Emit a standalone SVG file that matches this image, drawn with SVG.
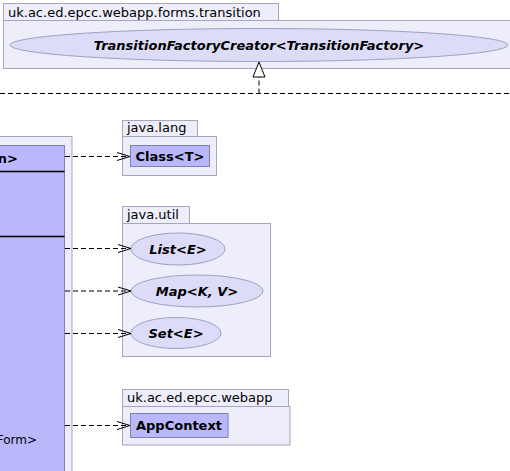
<svg xmlns="http://www.w3.org/2000/svg" width="510" height="471" viewBox="0 0 510 471">
<defs>
<style>
.pkg{fill:#eeeefa;stroke:#a5a5bf;stroke-width:1}
.cls{fill:#b8b8fa;stroke:#8080b0;stroke-width:1}
.ifc{fill:#dcdcf8;stroke:#a0a0c0;stroke-width:1}
.pt{font-family:"DejaVu Sans",sans-serif;font-size:13px;fill:#000}
.bt{font-family:"DejaVu Sans",sans-serif;font-size:13px;font-weight:bold;fill:#000}
.it{font-family:"DejaVu Sans",sans-serif;font-size:13px;font-weight:bold;font-style:italic;fill:#000}
.dep{stroke:#000;stroke-width:1;stroke-dasharray:5,3;fill:none}
.head{stroke:#000;stroke-width:1;fill:none}
</style>
</defs>
<g id="pkg-transition">
<rect class="pkg" x="3.5" y="3.5" width="275" height="17"/>
<rect class="pkg" x="3.5" y="20.5" width="520" height="48"/>
<text class="pt" x="8" y="16.5">uk.ac.ed.epcc.webapp.forms.transition</text>
</g>
<g id="TransitionFactoryCreator">
<ellipse class="ifc" cx="259" cy="45" rx="249" ry="16.5"/>
<text class="it" x="259" y="49.5" text-anchor="middle">TransitionFactoryCreator&lt;TransitionFactory&gt;</text>
</g>
<g id="pkg-main">
<rect class="pkg" x="-10" y="136.5" width="82" height="350"/>
</g>
<g id="mainClass">
<rect class="cls" x="-10" y="145.5" width="74.5" height="340"/>
<line x1="-10" y1="171.5" x2="64.5" y2="171.5" stroke="#000" stroke-width="1.5"/>
<line x1="-10" y1="236.5" x2="64.5" y2="236.5" stroke="#000" stroke-width="1.5"/>
<text class="bt" x="18" y="163" text-anchor="end">n&gt;</text>
<text class="pt" x="37" y="443.5" text-anchor="end" style="font-size:12px">Form&gt;</text>
</g>
<g id="pkg-java-lang">
<rect class="pkg" x="122.5" y="120.5" width="75" height="16"/>
<rect class="pkg" x="122.5" y="136.5" width="94" height="39"/>
<text class="pt" x="127" y="132">java.lang</text>
</g>
<g id="Class">
<rect class="cls" x="130.5" y="145.5" width="79" height="21"/>
<text class="bt" x="170" y="160.5" text-anchor="middle">Class&lt;T&gt;</text>
</g>
<g id="pkg-java-util">
<rect class="pkg" x="122.5" y="206.5" width="67" height="17"/>
<rect class="pkg" x="122.5" y="223.5" width="148" height="133"/>
<text class="pt" x="127" y="218.5">java.util</text>
</g>
<g id="List">
<ellipse class="ifc" cx="178" cy="249" rx="47" ry="16"/>
<text class="it" x="178" y="253.5" text-anchor="middle">List&lt;E&gt;</text>
</g>
<g id="Map">
<ellipse class="ifc" cx="197" cy="291" rx="66" ry="16"/>
<text class="it" x="197" y="295.5" text-anchor="middle">Map&lt;K, V&gt;</text>
</g>
<g id="Set">
<ellipse class="ifc" cx="176" cy="333" rx="45" ry="15.5"/>
<text class="it" x="176" y="337.5" text-anchor="middle">Set&lt;E&gt;</text>
</g>
<g id="pkg-webapp">
<rect class="pkg" x="122.5" y="389.5" width="166" height="17"/>
<rect class="pkg" x="122.5" y="406.5" width="167.5" height="38.5"/>
<text class="pt" x="127" y="401.5">uk.ac.ed.epcc.webapp</text>
</g>
<g id="AppContext">
<rect class="cls" x="130.5" y="413.5" width="97.5" height="24"/>
<text class="bt" x="179" y="430" text-anchor="middle">AppContext</text>
</g>
<g id="connectors">
<line class="dep" x1="0" y1="93.5" x2="510" y2="93.5"/>
<line class="dep" x1="259" y1="93.5" x2="259" y2="77"/>
<polygon points="259,62 253,77 265,77" fill="#fff" stroke="#000" stroke-width="1"/>
<line class="dep" x1="65" y1="156.5" x2="129" y2="156.5"/>
<path class="head" d="M117,152.5 L130,156.5 L117,160.5"/>
<line class="dep" x1="65" y1="248.5" x2="130" y2="248.5"/>
<path class="head" d="M118,244.5 L131,248.5 L118,252.5"/>
<line class="dep" x1="65" y1="291" x2="130" y2="291"/>
<path class="head" d="M118,287 L131,291 L118,295"/>
<line class="dep" x1="65" y1="333.5" x2="130" y2="333.5"/>
<path class="head" d="M118,329.5 L131,333.5 L118,337.5"/>
<line class="dep" x1="65" y1="425.5" x2="129" y2="425.5"/>
<path class="head" d="M117,421.5 L130,425.5 L117,429.5"/>
</g>
</svg>
